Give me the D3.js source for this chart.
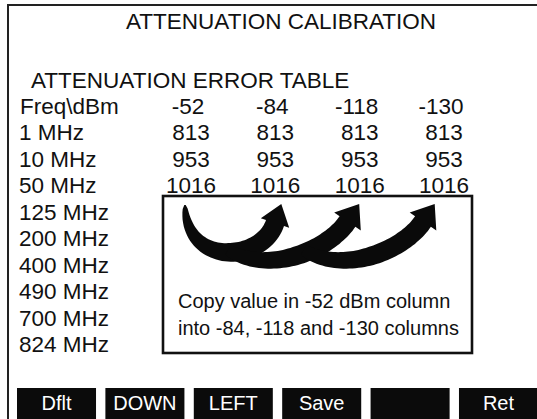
<!DOCTYPE html>
<html>
<head>
<meta charset="utf-8">
<script src="https://cdn.jsdelivr.net/npm/d3@7"></script>
<style>
  html, body { margin: 0; padding: 0; background: #fff; }
  svg { display: block; }
  text { font-family: "Liberation Sans", Arial, Helvetica, sans-serif; fill: #111; }
</style>
</head>
<body>
<svg id="screen" width="537" height="419"></svg>
<script>
// table content
var titleText = 'ATTENUATION CALIBRATION';
var tableTitle = 'ATTENUATION ERROR TABLE';
var cornerLabel = 'Freq\\dBm';
var dbmLevels = ['-52', '-84', '-118', '-130'];
var freqLabels = ['1 MHz', '10 MHz', '50 MHz', '125 MHz', '200 MHz', '400 MHz', '490 MHz', '700 MHz', '824 MHz'];
var err52 = [813, 953, 1016];
var err84 = [813, 953, 1016];
var err118 = [813, 953, 1016];
var err130 = [813, 953, 1016];
var noteLines = ['Copy value in -52 dBm column', 'into -84, -118 and -130 columns'];
var softKeys = ['Dflt', 'DOWN', 'LEFT', 'Save', '', 'Ret'];

var columns = [err52, err84, err118, err130];

var svg = d3.select('#screen');

// frame: top and left edges only
svg.append('path')
  .attr('d', 'M8,419V5H537')
  .attr('fill', 'none')
  .attr('stroke', '#222')
  .attr('stroke-width', 2);

svg.append('text')
  .attr('x', 281)
  .attr('y', 28.5)
  .attr('text-anchor', 'middle')
  .style('font-size', '22.5px')
  .text(titleText);

svg.append('text')
  .attr('x', 31)
  .attr('y', 87.5)
  .style('font-size', '22.5px')
  .text(tableTitle);

// scales
var x = d3.scalePoint().domain(dbmLevels).range([191, 444]);
var y = d3.scaleLinear().domain([-1, 8]).range([114, 352]);

var table = svg.append('g').style('font-size', '22.5px');

table.append('text')
  .attr('x', 20)
  .attr('y', y(-1))
  .text(cornerLabel);

table.selectAll('text.hdr')
  .data(dbmLevels)
  .enter().append('text')
  .attr('class', 'hdr')
  .attr('x', function(d) { return x(d) - 3; })
  .attr('y', y(-1))
  .attr('text-anchor', 'middle')
  .text(function(d) { return d; });

table.selectAll('text.freq')
  .data(freqLabels)
  .enter().append('text')
  .attr('class', 'freq')
  .attr('x', 19)
  .attr('y', function(d, i) { return y(i); })
  .text(function(d) { return d; });

columns.forEach(function(col, c) {
  table.selectAll('text.v' + c)
    .data(col)
    .enter().append('text')
    .attr('class', 'v' + c)
    .attr('x', x(dbmLevels[c]))
    .attr('y', function(d, i) { return y(i); })
    .attr('text-anchor', 'middle')
    .text(function(d) { return d; });
});

// note box
svg.append('rect')
  .attr('x', 163)
  .attr('y', 196)
  .attr('width', 309)
  .attr('height', 157)
  .attr('fill', 'none')
  .attr('stroke', '#111')
  .attr('stroke-width', 2.6);

// curved arrows: tapered bezier body + head
var arrows = [
  {p0: [185, 205], p1: [186, 268], p2: [262, 262], p3: [275, 223], w0: 1.5, w1: 19, head: 20, hw: 15},
  {p0: [228, 250], p1: [268, 275], p2: [328, 250.5], p3: [347.5, 221.5], w0: 10, w1: 19, head: 21, hw: 16},
  {p0: [303.5, 250], p1: [343.5, 275], p2: [403.5, 250.5], p3: [423, 221.5], w0: 10, w1: 19, head: 21, hw: 16}
];

function bez(a, b, c, d, t) {
  var u = 1 - t;
  return u*u*u*a + 3*u*u*t*b + 3*u*t*t*c + t*t*t*d;
}
function bezD(a, b, c, d, t) {
  var u = 1 - t;
  return 3*u*u*(b - a) + 6*u*t*(c - b) + 3*t*t*(d - c);
}

function arrowPath(a) {
  var left = [], right = [];
  var n = 50, nx = 0, ny = 0, tx = 0, ty = 0;
  for (var i = 0; i <= n; i++) {
    var t = i / n;
    var px = bez(a.p0[0], a.p1[0], a.p2[0], a.p3[0], t);
    var py = bez(a.p0[1], a.p1[1], a.p2[1], a.p3[1], t);
    var dx = bezD(a.p0[0], a.p1[0], a.p2[0], a.p3[0], t);
    var dy = bezD(a.p0[1], a.p1[1], a.p2[1], a.p3[1], t);
    var len = Math.sqrt(dx*dx + dy*dy) || 1;
    tx = dx / len; ty = dy / len;
    nx = -ty; ny = tx;
    var w = (a.w0 + (a.w1 - a.w0) * Math.sqrt(Math.min(1, t / 0.55))) / 2;
    left.push([px + nx*w, py + ny*w]);
    right.push([px - nx*w, py - ny*w]);
  }
  var e = a.p3;
  var pts = left.slice();
  pts.push([e[0] + nx*a.hw, e[1] + ny*a.hw]);
  pts.push([e[0] + tx*a.head, e[1] + ty*a.head]);
  pts.push([e[0] - nx*a.hw, e[1] - ny*a.hw]);
  pts = pts.concat(right.reverse());
  return 'M' + pts.map(function(p) { return p[0].toFixed(1) + ',' + p[1].toFixed(1); }).join('L') + 'Z';
}

svg.append('g').selectAll('path')
  .data(arrows)
  .enter().append('path')
  .attr('d', arrowPath)
  .attr('fill', '#0a0a0a');

svg.selectAll('text.note')
  .data(noteLines)
  .enter().append('text')
  .attr('class', 'note')
  .attr('x', 178)
  .attr('y', function(d, i) { return 307.5 + i * 27; })
  .style('font-size', '20px')
  .text(function(d) { return d; });

// soft key bar
var kx = d3.scaleBand().domain(d3.range(softKeys.length)).range([17, 538]).paddingInner(0.106);

var keys = svg.append('g').selectAll('g')
  .data(softKeys)
  .enter().append('g');

keys.append('rect')
  .attr('x', function(d, i) { return kx(i); })
  .attr('y', 388)
  .attr('width', kx.bandwidth())
  .attr('height', 40)
  .attr('fill', '#0b0b0b');

keys.append('text')
  .attr('x', function(d, i) { return kx(i) + kx.bandwidth() / 2; })
  .attr('y', 410)
  .attr('text-anchor', 'middle')
  .style('font-size', '20px')
  .style('fill', '#fff')
  .text(function(d) { return d; });
</script>
</body>
</html>
